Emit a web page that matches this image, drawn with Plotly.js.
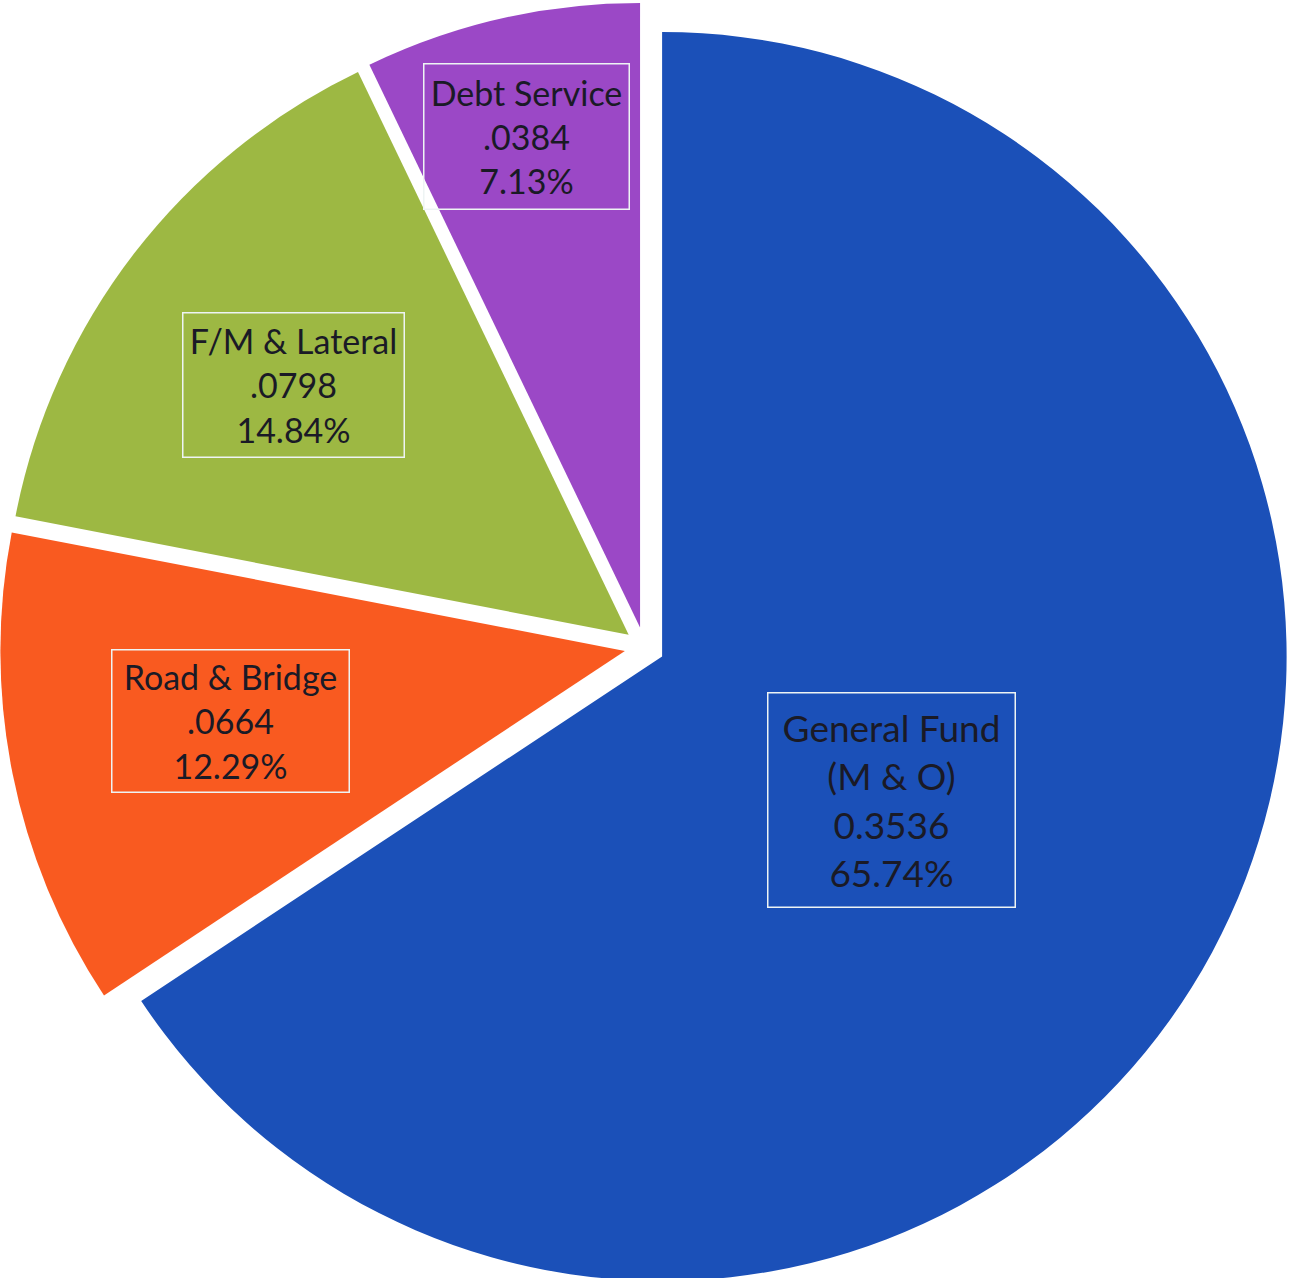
<!DOCTYPE html>
<html>
<head>
<meta charset="utf-8">
<script src="https://cdn.plot.ly/plotly-3.0.1.min.js"></script>
<style>html,body{margin:0;padding:0;background:#fff;overflow:hidden;}#chart{width:1289px;height:1294px;}</style>
</head>
<body>
<div id="chart"></div>
<script>
const categories = ["General Fund (M & O)", "Road & Bridge", "F/M & Lateral", "Debt Service"];
const labelLines = [["General Fund", "(M & O)"], ["Road & Bridge"], ["F/M & Lateral"], ["Debt Service"]];
const rateText = ["0.3536", ".0664", ".0798", ".0384"];
const values = [0.3536, 0.0664, 0.0798, 0.0384];
const percentText = ["65.74%", "12.29%", "14.84%", "7.13%"];
const colors = ["#1b50b8", "#f95a20", "#9db843", "#9b48c6"];

const W = 1289, H = 1294;
// label box centres and sizes in pixels
const boxes = [
  {cx: 891, cy: 800, w: 246, h: 213, size: 37},
  {cx: 230, cy: 721, w: 236, h: 141, size: 34},
  {cx: 293, cy: 385, w: 220, h: 143, size: 34},
  {cx: 526, cy: 136, w: 204, h: 144, size: 34}
];

const annotations = categories.map((c, i) => {
  const b = boxes[i];
  return {
    xref: 'paper', yref: 'paper',
    x: b.cx / W, y: 1 - b.cy / H,
    xanchor: 'center', yanchor: 'middle',
    text: labelLines[i].concat([rateText[i], percentText[i]]).join('<br>'),
    showarrow: false,
    width: b.w, height: b.h,
    align: 'center', valign: 'middle',
    bordercolor: '#eef4f4', borderwidth: 1.5, borderpad: 0,
    font: {family: 'Lato, "Open Sans", sans-serif', size: b.size, color: '#1a1a26'}
  };
});

const data = [{
  type: 'pie',
  labels: categories,
  values: values,
  sort: false,
  direction: 'clockwise',
  rotation: 0,
  pull: [0.032, 0.032, 0.032, 0.032],
  marker: {colors: colors, line: {width: 0}},
  textinfo: 'none',
  hoverinfo: 'none',
  showlegend: false,
  domain: {x: [0, 1], y: [0, 1]}
}];

const layout = {
  width: W, height: H,
  margin: {l: 0, r: 0, t: 0, b: 0},
  paper_bgcolor: '#ffffff',
  showlegend: false,
  annotations: annotations
};

Plotly.newPlot('chart', data, layout, {displayModeBar: false, staticPlot: true});
</script>
</body>
</html>
